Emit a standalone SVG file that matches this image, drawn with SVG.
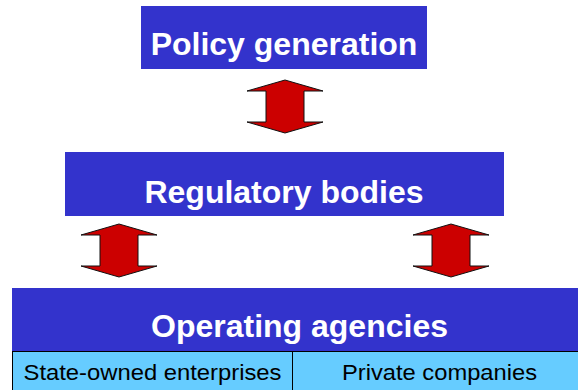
<svg xmlns="http://www.w3.org/2000/svg" width="578" height="390" viewBox="0 0 578 390">
  <style>
    .box { fill: #3333CC; }
    .sub { fill: #66CCFF; stroke: #000; stroke-width: 1; }
    .title { font-family: "Liberation Sans", Arial, sans-serif; font-weight: bold; fill: #fff; text-anchor: middle; font-size: 32px; }
    .label { font-family: "Liberation Sans", Arial, sans-serif; fill: #000; text-anchor: middle; font-size: 22px; }
    .arrow { fill: #CC0000; stroke: #111; stroke-width: 1; stroke-linejoin: miter; }
  </style>
  <defs>
    <!-- double-headed block arrow, centred on x=0, 53px tall -->
    <path id="dbl" d="M0,0 L38,11 L19,11 L19,42 L38,42 L0,53 L-38,42 L-19,42 L-19,11 L-38,11 Z"/>
  </defs>

  <g id="policy-generation">
    <rect class="box" x="141" y="6" width="286" height="63"/>
    <text class="title" x="284" y="55">Policy generation</text>
  </g>

  <g id="regulatory-bodies">
    <rect class="box" x="65" y="152" width="439" height="64"/>
    <text class="title" x="284" y="203">Regulatory bodies</text>
  </g>

  <g id="operating-agencies">
    <rect class="box" x="12" y="288" width="566" height="63"/>
    <text class="title" x="299.5" y="337">Operating agencies</text>
    <rect class="sub" x="12.5" y="351.5" width="280" height="40"/>
    <rect class="sub" x="292.5" y="351.5" width="290" height="40"/>
    <text class="label" x="152.5" y="380" textLength="258" lengthAdjust="spacingAndGlyphs">State-owned enterprises</text>
    <text class="label" x="439.5" y="380" textLength="195" lengthAdjust="spacingAndGlyphs">Private companies</text>
  </g>

  <g id="connectors">
    <use href="#dbl" class="arrow" x="285" y="80"/>
    <use href="#dbl" class="arrow" x="119" y="224"/>
    <use href="#dbl" class="arrow" x="451" y="224"/>
  </g>
</svg>
